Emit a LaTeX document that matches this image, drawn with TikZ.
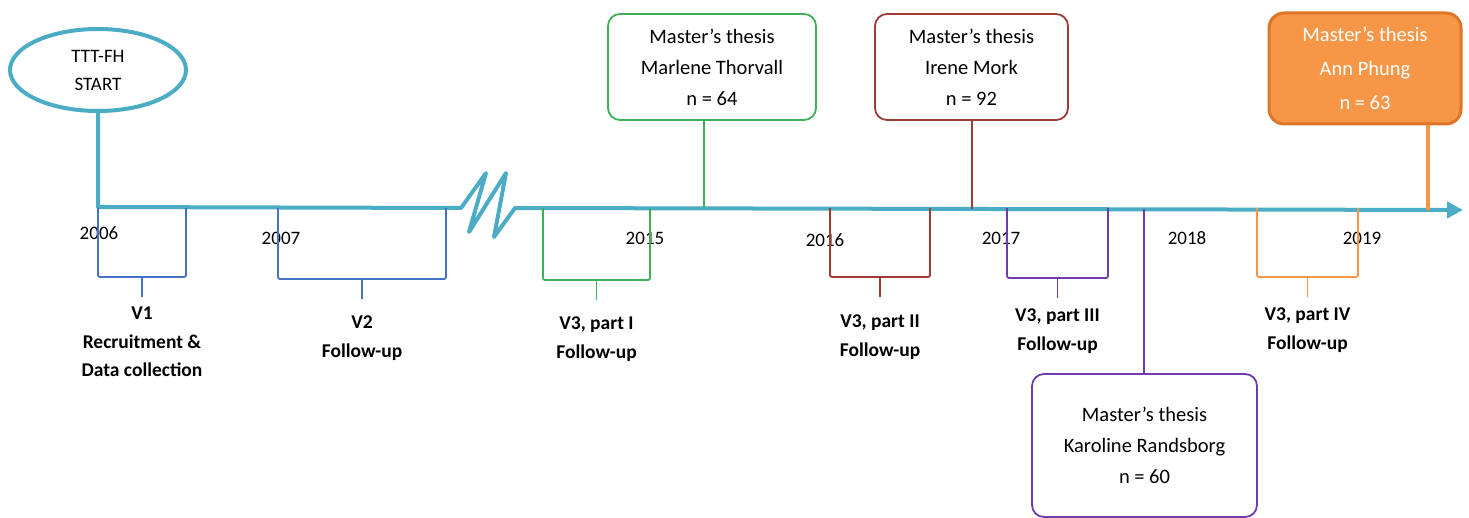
\documentclass[tikz,border=0pt]{standalone}
\usepackage{fontspec}
\setmainfont{Carlito}
\usetikzlibrary{shapes.geometric,arrows.meta,positioning}
\definecolor{axisblue}{RGB}{75,172,198}
\definecolor{visitblue}{RGB}{68,114,196}
\definecolor{thesisgreen}{RGB}{60,175,90}
\definecolor{thesisred}{RGB}{155,60,55}
\definecolor{thesispurple}{RGB}{112,60,170}
\definecolor{thesisorange}{RGB}{247,150,70}
\definecolor{orangeedge}{RGB}{222,118,40}

\begin{document}
\begin{tikzpicture}[
    x=1pt, y=-1pt,
    axis/.style={draw=axisblue, line width=4pt, line join=round},
    thesis/.style={draw, rounded corners=12pt, line width=1.8pt, align=center, inner sep=0pt, font=\fontsize{20.5}{31}\selectfont},
    visit/.style={line width=1.8pt, rounded corners=2pt},
    visitlabel/.style={align=center, inner sep=0pt, font=\fontsize{19.5}{28.5}\selectfont\bfseries},
    year/.style={inner sep=0pt, font=\fontsize{19}{22}\selectfont}
]
\useasboundingbox (0,0) rectangle (1469,518);

% start of the study
\node[ellipse, draw=axisblue, line width=4pt, minimum width=176pt, minimum height=82pt, align=center, font=\fontsize{19}{28}\selectfont] (start) at (98,70) {TTT-FH\\START};

% years
\node[year] (y2006) at (99,233) {2006};
\node[year] (y2007) at (281,238) {2007};
\node[year] (y2015) at (645,238) {2015};
\node[year] (y2016) at (825,240) {2016};
\node[year] (y2017) at (1001,238) {2017};
\node[year] (y2018) at (1187,238) {2018};
\node[year] (y2019) at (1362,238) {2019};

% timeline, with a break between 2007 and 2015
\coordinate (t0) at (98,207);
\coordinate (brk) at (461,208);
\coordinate (tend) at (1463,210);
\draw[axis, -{Triangle[length=16pt,width=16pt]}] (start) -- (t0) -- (brk)
    -- ++(25,-35) -- ++(-17,59) -- ++(37,-59) -- ++(-12,64) -- ++(21,-29) -- (tend);

% visits
\foreach \l/\r/\b/\c/\n in {98/186/277/visitblue/v1, 278/446/279/visitblue/v2,
    543/650/280/thesisgreen/v3a, 830/930/277/thesisred/v3b,
    1007/1108/278/thesispurple/v3c, 1257/1358/277/thesisorange/v3d}{
  \draw[visit, draw=\c] (\l,208) -- (\l,\b) -- (\r,\b) -- (\r,208);
  \draw[visit, draw=\c] ({(\l+\r)/2},\b) -- ++(0,20) coordinate (tick\n);
}
\node[visitlabel, below=10pt of tickv1] (v1) {V1\\Recruitment \&\\Data collection};
\node[visitlabel, below=17pt of tickv2] (v2) {V2\\Follow-up};
\node[visitlabel, below=17pt of tickv3a] (v3a) {V3, part I\\Follow-up};
\node[visitlabel, below=18pt of tickv3b] (v3b) {V3, part II\\Follow-up};
\node[visitlabel, below=11pt of tickv3c] (v3c) {V3, part III\\Follow-up};
\node[visitlabel, below=11pt of tickv3d] (v3d) {V3, part IV\\Follow-up};

% master's theses
\node[thesis, draw=thesisgreen, minimum width=208pt, minimum height=106pt] (marlene) at (712,67) {Master's thesis\\Marlene Thorvall\\n = 64};
\node[thesis, draw=thesisred, minimum width=193pt, minimum height=106pt] (irene) at (971.5,67) {Master's thesis\\Irene Mork\\n = 92};
\node[thesis, draw=thesispurple, minimum width=225pt, minimum height=143pt] (karoline) at (1144.5,445.5) {Master's thesis\\Karoline Randsborg\\n = 60};
\node[thesis, draw=orangeedge, fill=thesisorange, line width=3pt, rounded corners=15pt, text=white, minimum width=192pt, minimum height=111pt, font=\fontsize{20.5}{34}\selectfont] (ann) at (1365,68.5) {Master's thesis\\Ann Phung\\n = 63};

\coordinate (mA) at (704,208);
\coordinate (mB) at (972,209);
\coordinate (mC) at (1144,209);
\coordinate (mD) at (1428,210);
\draw[thesisgreen, line width=1.8pt] (marlene.south -| mA) -- (mA);
\draw[thesisred, line width=1.8pt] (irene.south -| mB) -- (mB);
\draw[thesispurple, line width=1.8pt] (mC) -- (karoline.north -| mC);
\draw[thesisorange, line width=4pt] (ann.south -| mD) -- (mD);
\end{tikzpicture}
\end{document}
